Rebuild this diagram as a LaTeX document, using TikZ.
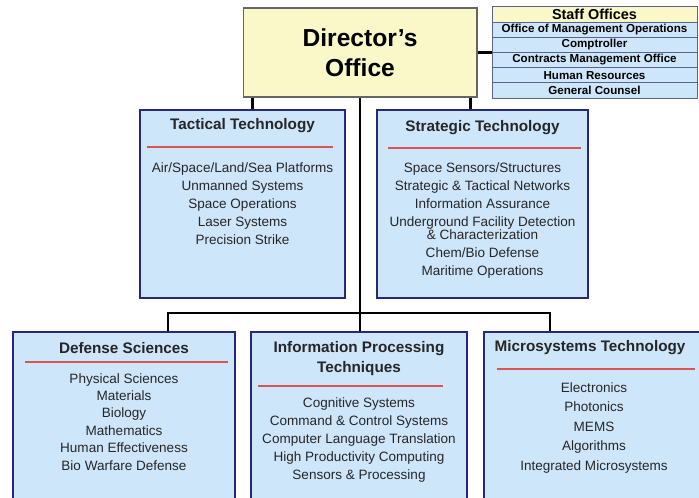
\documentclass[tikz,border=0pt]{standalone}
\usepackage{fontspec}
\setmainfont{Liberation Sans}
\usetikzlibrary{positioning,calc}
\definecolor{officeyellow}{RGB}{250,247,200}
\definecolor{unitblue}{RGB}{206,230,250}
\definecolor{unitnavy}{RGB}{40,40,120}
\definecolor{rulered}{RGB}{215,85,85}
\definecolor{rowline}{RGB}{90,100,140}

\begin{document}
\begin{tikzpicture}[x=0.02cm,y=-0.02cm,
  office/.style={draw=gray!80!black,line width=0.6pt,fill=officeyellow,align=center,
    minimum width=4.68cm,minimum height=1.78cm,font=\fontsize{14}{17}\selectfont\bfseries},
  staffhead/.style={draw=rowline,line width=0.5pt,fill=officeyellow,minimum width=4.1cm,
    minimum height=0.32cm,inner sep=0pt,font=\fontsize{8.2}{9}\selectfont\bfseries},
  staffrow/.style={draw=rowline,line width=0.5pt,fill=unitblue,minimum width=4.1cm,
    minimum height=0.304cm,inner sep=0pt,font=\fontsize{6.6}{7}\selectfont\bfseries},
  unit/.style={draw=unitnavy,line width=1.1pt,fill=unitblue,inner sep=0pt},
  unittitle/.style={align=center,inner sep=0pt,text=black!85,
    font=\fontsize{8.7}{11.9}\selectfont\bfseries},
  unititems/.style={align=center,anchor=north,inner sep=0pt,text=black!85},
  redrule/.style={rulered,line width=1.1pt},
  link/.style={line width=1.5pt},
  ]

  \clip (0,0) rectangle (699,497);

  % director and staff offices
  \node (director) [office] at (360,52.5) {Director's\\Office};

  \node (staff0) [staffhead] at (594.5,14) {Staff Offices};
  \foreach \t [count=\i] in {Office of Management Operations,Comptroller,%
      Contracts Management Office,Human Resources,General Counsel}
  {
    \node (staff\i) [staffrow] at (594.5,{29.6+15.2*(\i-1)}) {\t};
  }

  % technology offices
  \node (tto) [unit, minimum width=4.1cm, minimum height=3.76cm] at (242.5,204) {};
  \node (sto) [unit, minimum width=4.22cm, minimum height=3.76cm] at (482.5,204) {};
  \node (dso) [unit, minimum width=4.44cm, minimum height=3.6cm] at (124,422) {};
  \node (ipto) [unit, minimum width=4.32cm, minimum height=3.6cm] at (359,422) {};
  \node (mto) [unit, minimum width=4.4cm, minimum height=3.6cm] at (594,422) {};

  \node (tto_title) [unittitle] at (242.5,126) {Tactical Technology};
  \node (sto_title) [unittitle] at (482.5,128) {Strategic Technology};
  \node (dso_title) [unittitle] at (124,348) {Defense Sciences};
  \node (ipto_title) [unittitle] at (359,358.5) {Information Processing\\Techniques};
  \node (mto_title) [unittitle] at (590,348) {Microsystems Technology};

  \draw[redrule] (147,147) -- (333,147);
  \draw[redrule] (388,148) -- (581,148);
  \draw[redrule] (25,362) -- (228,362);
  \draw[redrule] (258,386) -- (443,386);
  \draw[redrule] (497,369) -- (695,369);

  \node (tto_items) [unititems,font=\fontsize{7.7}{10.3}\selectfont] at (242.5,162)
    {Air/Space/Land/Sea Platforms\\Unmanned Systems\\Space Operations\\Laser Systems\\Precision Strike};
  \node (sto_items) [unititems,font=\fontsize{7.7}{10.3}\selectfont] at (482.5,162)
    {Space Sensors/Structures\\Strategic \& Tactical Networks\\Information Assurance\\
     Underground Facility Detection\\[-2.8pt]\& Characterization\\Chem/Bio Defense\\Maritime Operations};
  \node (dso_items) [unititems,font=\fontsize{7.7}{9.9}\selectfont] at (124,373)
    {Physical Sciences\\Materials\\Biology\\Mathematics\\Human Effectiveness\\Bio Warfare Defense};
  \node (ipto_items) [unititems,font=\fontsize{7.7}{10.3}\selectfont] at (359,397)
    {Cognitive Systems\\Command \& Control Systems\\Computer Language Translation\\
     High Productivity Computing\\Sensors \& Processing};
  \node (mto_items) [unititems,font=\fontsize{7.7}{11.1}\selectfont] at (594,382)
    {Electronics\\Photonics\\MEMS\\Algorithms\\Integrated Microsystems};

  % connectors
  \coordinate (bus_w) at (168,313);
  \coordinate (bus_e) at (550,313);
  \draw[link] (director.east) -- (director.east -| staff3.west);
  \draw[link] ([xshift=0.2cm]director.south west) -- ([xshift=0.2cm]director.south west |- tto.north);
  \draw[link] ([xshift=-0.14cm]director.south east) -- ([xshift=-0.14cm]director.south east |- sto.north);
  \draw[link] (director.south) -- (director.south |- ipto.north);
  \draw[link] (dso.north -| bus_w) |- (bus_e) -- (bus_e |- mto.north);

\end{tikzpicture}
\end{document}
